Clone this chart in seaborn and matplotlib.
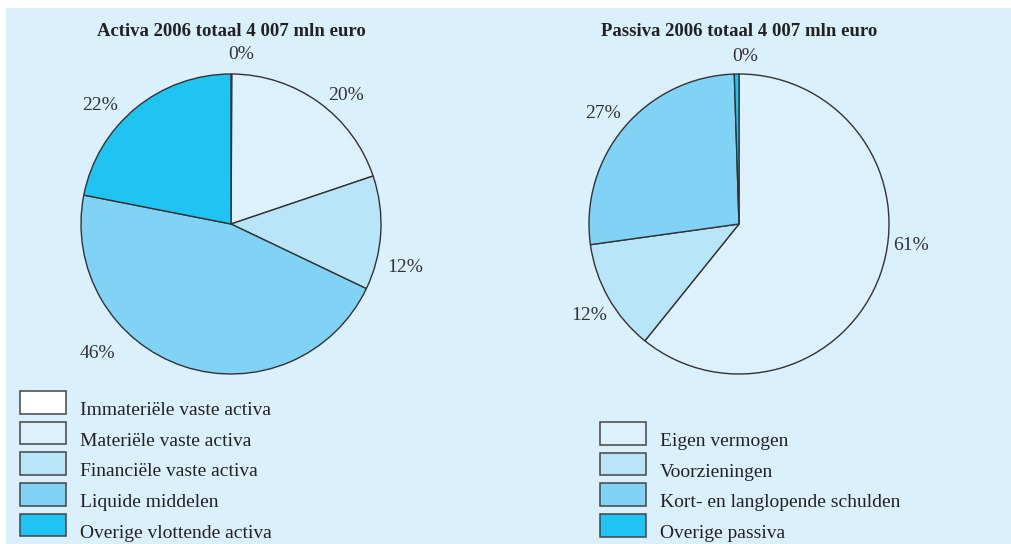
import matplotlib
matplotlib.use("Agg")
import matplotlib.pyplot as plt
from matplotlib.patches import Rectangle
import seaborn as sns

# data (mln euro)
activa_labels = ['Immateriële vaste activa', 'Materiële vaste activa',
                 'Financiële vaste activa', 'Liquide middelen',
                 'Overige vlottende activa']
activa_values = [4, 790, 492, 1843, 878]

passiva_labels = ['Eigen vermogen', 'Voorzieningen',
                  'Kort- en langlopende schulden', 'Overige passiva']
passiva_values = [2436, 481, 1070, 20]

activa_title = 'Activa 2006 totaal 4 007 mln euro'
passiva_title = 'Passiva 2006 totaal 4 007 mln euro'

activa_colors = ['#ffffff', '#dcf1fb', '#b9e5f8', '#80d3f5', '#1fc4f2']
passiva_colors = ['#dcf1fb', '#b9e5f8', '#80d3f5', '#1fc4f2']

# where the percent labels sit (in radius units)
activa_lab_pos = [(0.07, 1.13), (0.77, 0.86), (1.16, -0.29), (-0.89, -0.86), (-0.87, 0.79)]
passiva_lab_pos = [(1.15, -0.14), (-1.0, -0.61), (-0.91, 0.74), (0.04, 1.12)]

sns.set_theme(style='white')
plt.rcParams['font.family'] = ['Liberation Serif', 'DejaVu Serif']

BG = '#daf0fc'
EDGE = '#333333'
W, H = 1011, 544

fig = plt.figure(figsize=(W / 100, H / 100), dpi=100)
fig.patch.set_facecolor('white')
# light blue panel
fig.patches.append(Rectangle((6 / W, 0), 1, 1 - 8 / H, transform=fig.transFigure,
                             facecolor=BG, edgecolor='none', zorder=-10))


def draw_pie(cx, title, values, colors, lab_pos):
    r = 150
    ax = fig.add_axes([(cx - r) / W, (H - 224 - r) / H, 2 * r / W, 2 * r / H])
    ax.set_zorder(1)
    ax.set_facecolor('none')
    wedges, texts, autotexts = ax.pie(
        values, colors=colors, startangle=90, counterclock=False,
        autopct=lambda p: f'{p:.0f}%', pctdistance=1.15,
        wedgeprops=dict(edgecolor=EDGE, linewidth=1.0),
        textprops=dict(fontsize=14, color='#333333'))
    for t, pos in zip(autotexts, lab_pos):
        t.set_position(pos)
        t.set_ha('center')
        t.set_va('center')
    ax.set_xlim(-1, 1)
    ax.set_ylim(-1, 1)
    ax.set_aspect('equal')
    ax.axis('off')
    fig.text(cx / W, 1 - 32 / H, title, ha='center', va='center',
             fontsize=13.5, fontweight='bold', color='#222222')


draw_pie(231, activa_title, activa_values, activa_colors, activa_lab_pos)
draw_pie(739, passiva_title, passiva_values, passiva_colors, passiva_lab_pos)


def draw_legend(x0, y0, labels, colors):
    step = 30.7
    for i, (lab, col) in enumerate(zip(labels, colors)):
        top = y0 + i * step
        fig.patches.append(Rectangle((x0 / W, 1 - (top + 22.5) / H), 46 / W, 22.5 / H,
                                     transform=fig.transFigure, facecolor=col,
                                     edgecolor='#444444', linewidth=1.1, zorder=2))
        fig.text((x0 + 60) / W, 1 - (top + 19.5) / H, lab, ha='left', va='center',
                 fontsize=14, color='#222222')


draw_legend(20, 391, activa_labels, activa_colors)
draw_legend(600, 422, passiva_labels, passiva_colors)

fig.savefig('out.png', dpi=100, facecolor=fig.get_facecolor())
